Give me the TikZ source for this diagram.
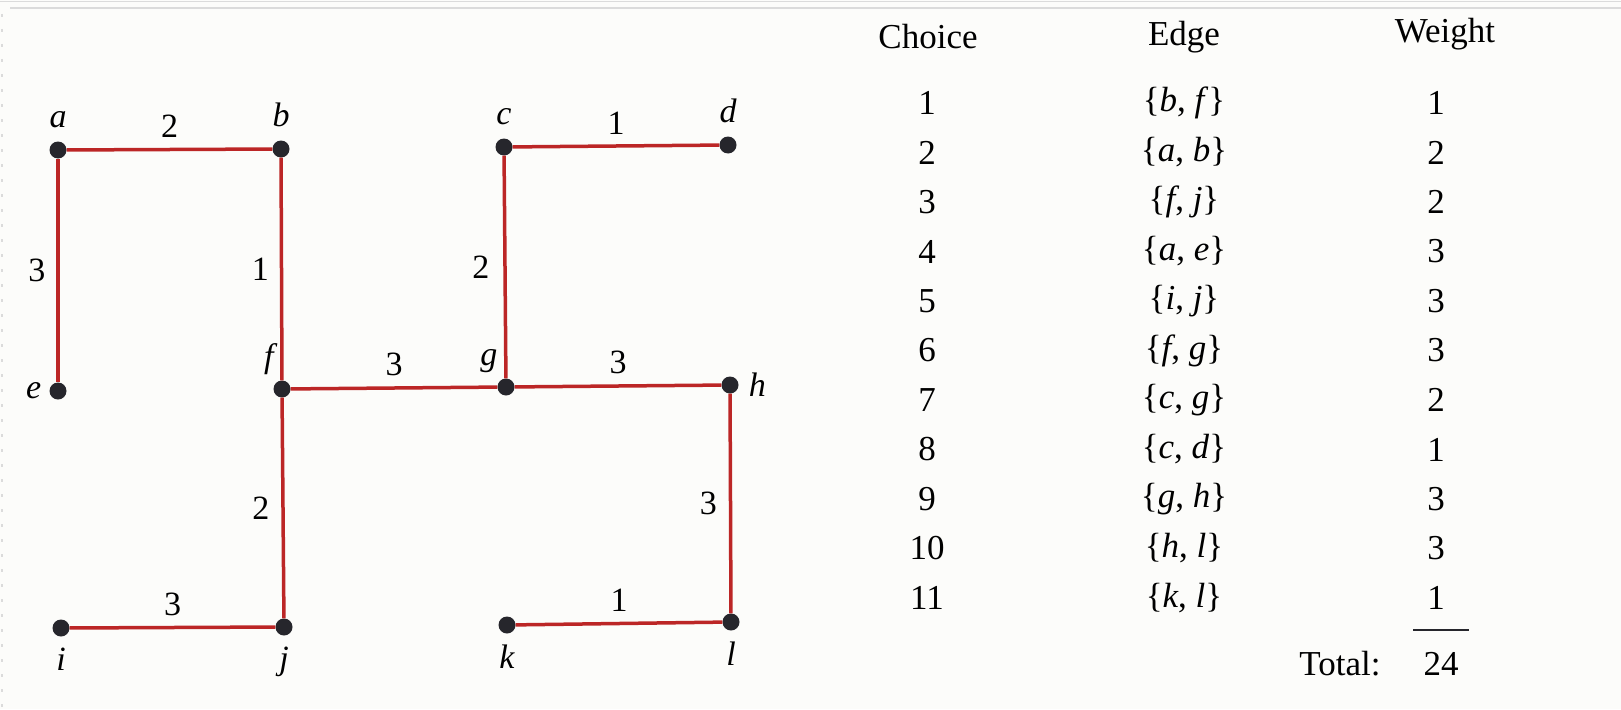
\documentclass[tikz,border=0pt]{standalone}
\usepackage{fontspec}
\setmainfont{Liberation Serif}
\definecolor{edgec}{RGB}{188,38,38}
\definecolor{dotc}{RGB}{38,38,44}
\definecolor{bgc}{RGB}{252,252,250}
\begin{document}
\begin{tikzpicture}[x=1pt,y=-1pt,
  vert/.style={circle,fill=dotc,inner sep=0pt,minimum size=17pt},
  edge/.style={draw=edgec,line width=3.5pt},
  wt/.style={font=\fontsize{34}{40}\selectfont,inner sep=0pt},
  nlab/.style={font=\fontsize{34}{40}\selectfont\itshape,inner sep=0pt},
  txt/.style={font=\fontsize{35}{42}\selectfont,inner sep=0pt}]
\useasboundingbox (0,0) rectangle (1621,709);
\fill[bgc] (0,0) rectangle (1621,709);
\draw[black!14,line width=1.5pt] (0,1.5) -- (1621,1.5);
\draw[black!14,line width=2pt] (10,8) -- (1621,8);
\draw[black!14,line width=2pt,dash pattern=on 3pt off 12pt] (2,14) -- (2,709);

% vertices
\node[vert,label={[nlab,label distance=13pt]above:a}] (a) at (58,150) {};
\node[vert,label={[nlab,label distance=13pt]above:b}] (b) at (281,149) {};
\node[vert,label={[nlab,label distance=13pt]above:c}] (c) at (504,147) {};
\node[vert,label={[nlab,label distance=13pt]above:d}] (d) at (728,145) {};
\node[vert,label={[nlab,label distance=8pt]left:e}] (e) at (58,391) {};
\node[vert,label={[nlab,label distance=8pt]120:f}] (f) at (282,389) {};
\node[vert,label={[nlab,label distance=8pt]120:g}] (g) at (506,387) {};
\node[vert,label={[nlab,label distance=10pt]right:h}] (h) at (730,385) {};
\node[vert,label={[nlab,label distance=11pt]below:i}] (i) at (61,628) {};
\node[vert,label={[nlab,label distance=11pt]below:j}] (j) at (284,627) {};
\node[vert,label={[nlab,label distance=11pt]below:k}] (k) at (507,625) {};
\node[vert,label={[nlab,label distance=11pt]below:l}] (l) at (731,622) {};

% edges
\draw[edge] (a) -- node[wt,above=10pt]{2} (b);
\draw[edge] (c) -- node[wt,above=10pt]{1} (d);
\draw[edge] (a) -- node[wt,left=11pt]{3} (e);
\draw[edge] (b) -- node[wt,left=11pt]{1} (f);
\draw[edge] (c) -- node[wt,left=14pt]{2} (g);
\draw[edge] (f) -- node[wt,above=10pt]{3} (g);
\draw[edge] (g) -- node[wt,above=10pt]{3} (h);
\draw[edge] (f) -- node[wt,left=12pt]{2} (j);
\draw[edge] (h) -- node[wt,left=12pt]{3} (l);
\draw[edge] (i) -- node[wt,above=10pt]{3} (j);
\draw[edge] (k) -- node[wt,above=10pt]{1} (l);

% table
\node[txt] (hc) at (928,37) {Choice};
\node[txt] (he) at (1184,37) {Edge};
\node[txt] (hw) at (1445,34) {Weight};
\foreach \n/\u/\v/\w [count=\r from 0] in
  {1/b/f/1, 2/a/b/2, 3/f/j/2, 4/a/e/3, 5/i/j/3, 6/f/g/3,
   7/c/g/2, 8/c/d/1, 9/g/h/3, 10/h/l/3, 11/k/l/1}{
  \node[txt] (ch\n) at (927,{103+49.5*\r}) {\n};
  \node[txt] (ed\n) at (1184,{103+49.5*\r}) {\{\textit{\u}, \textit{\v}\}};
  \node[txt] (wt\n) at (1436,{103+49.5*\r}) {\w};
}
\coordinate (ls) at (1413,630);
\coordinate (le) at (1469,630);
\draw[dotc,line width=2pt] (ls) -- (le);
\node[txt] (tl) at (1340,664) {Total:};
\node[txt] (tv) at (1441,664) {24};
\end{tikzpicture}
\end{document}
